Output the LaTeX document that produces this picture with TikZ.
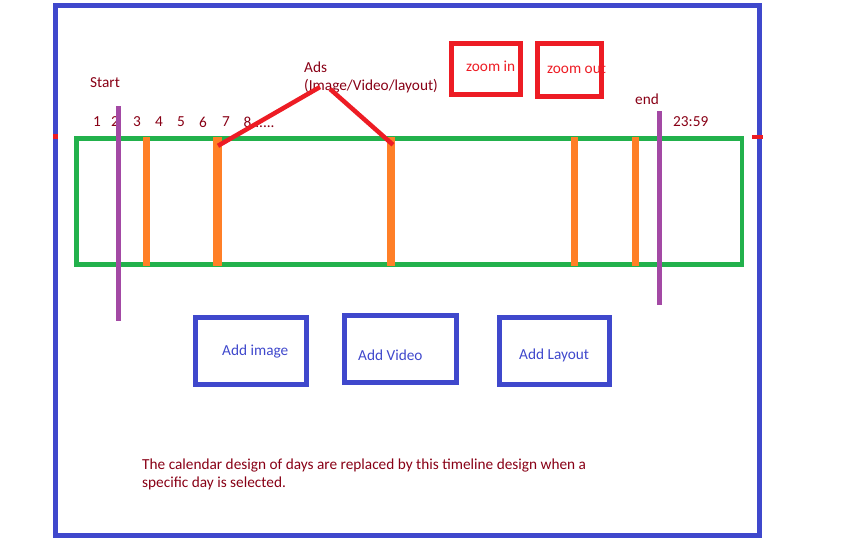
\documentclass[tikz,border=0pt]{standalone}
\usepackage{fontspec}
\setmainfont{Carlito}
\usepackage{xcolor}
\definecolor{framecolor}{HTML}{3F48CC}
\definecolor{greencolor}{HTML}{22B14C}
\definecolor{orangecolor}{HTML}{FF7F27}
\definecolor{purplecolor}{HTML}{A349A4}
\definecolor{redcolor}{HTML}{ED1C24}
\definecolor{textcolor}{HTML}{880015}
\newcommand{\adcolor}{orangecolor}
\newcommand{\zoomcolor}{redcolor}

\begin{document}
\begin{tikzpicture}[
      % GLOBAL CFG
      x=1pt, y=-1pt,
      font=\fontsize{15.3}{17.5}\selectfont,
      % Styles
      outerframe/.style={% The screen
        draw=framecolor,
        line width=5pt
      },
      timeline/.style={% The day
        rectangle,
        draw=greencolor,
        line width=4.5pt,
        minimum width=665.5pt,
        minimum height=126pt,
        inner sep=0pt
      },
      adbar/.style={% One ad on the timeline
        rectangle,
        fill=\adcolor,
        inner sep=0pt,
        minimum width=7pt,
        minimum height=129pt
      },
      limit/.style={% Start and end of the day
        draw=purplecolor,
        line width=5pt
      },
      adlink/.style={
        draw=\zoomcolor,
        line width=4.5pt
      },
      zoombox/.style={
        rectangle,
        draw=\zoomcolor,
        line width=5pt,
        inner sep=0pt
      },
      addbox/.style={
        rectangle,
        draw=framecolor,
        line width=5pt,
        minimum height=67pt,
        inner sep=0pt
      },
      txt/.style={inner sep=0pt, text=textcolor},
      zoomtxt/.style={inner sep=0pt, text=\zoomcolor, anchor=west},
      addtxt/.style={inner sep=0pt, text=framecolor, anchor=west}
      ]

      \useasboundingbox (0,0) rectangle (842,544);

      % Draw the screen:
      \draw [outerframe] (55,5.5) rectangle (759.5,535.5);
      \fill [\zoomcolor] (53,134) rectangle (58,139);
      \fill [\zoomcolor] (752,135) rectangle (763,139);

      % The timeline and its ads
      \node [timeline] (day) at (409.25,201.5) {};
      \node [adbar] (ad1) at (146.5,201.5) {};
      \node [adbar, minimum width=9pt] (ad2) at (217.5,201.5) {};
      \node [adbar, minimum width=8pt] (ad3) at (391,201.5) {};
      \node [adbar] (ad4) at (574.5,201.5) {};
      \node [adbar] (ad5) at (635.5,201.5) {};

      % Hours
      \foreach \h/\x in {1/97, 2/115, 3/137, 4/159, 5/181, 6/203, 7/226}
        \node [txt] (hour\h) at (\x,122) {\h};
      \node [txt, anchor=west] (hour8) at (243.5,122) {8......};
      \node [txt, anchor=west] (hourend) at (673,122) {23:59};

      % Start and end
      \coordinate (starttop) at (118.5,106);
      \coordinate (startbottom) at (118.5,321);
      \draw [limit] (starttop) -- (startbottom);
      \node [txt, anchor=west] (start) at (90,83) {Start};

      \coordinate (endtop) at (659.5,111);
      \coordinate (endbottom) at (659.5,305);
      \draw [limit] (endtop) -- (endbottom);
      \node [txt, anchor=west] (end) at (635,99) {end};

      % Ads
      \node [txt, anchor=west, align=left] (ads) at (304,77.5) {Ads\\(Image/Video/layout)};
      \coordinate (adpeak1) at (320,87);
      \coordinate (adpeak2) at (330,89);
      \draw [adlink] (ad2.north) ++(0.5,9) -- (adpeak1);
      \draw [adlink] (ad3.north) ++(2,8) -- (adpeak2);

      % Zoom
      \node [zoombox, minimum width=69pt, minimum height=51pt] (zoominbox) at (485.5,68.5) {};
      \node [zoomtxt] (zoomin) at (466,66) {zoom in};
      \node [zoombox, minimum width=64pt, minimum height=53pt] (zoomoutbox) at (569,69.5) {};
      \node [zoomtxt] (zoomout) at (547,69) {zoom out};

      % Add buttons
      \node [addbox, minimum width=111pt] (imagebox) at (251,351) {};
      \node [addtxt] (addimage) at (222,351) {Add image};
      \node [addbox, minimum width=112pt] (videobox) at (400.5,349) {};
      \node [addtxt] (addvideo) at (358,355) {Add Video};
      \node [addbox, minimum width=110pt] (layoutbox) at (554.5,351) {};
      \node [addtxt] (addlayout) at (519,355) {Add Layout};

      % Note
      \node [txt, anchor=west, align=left] (note) at (142,474.5)
        {The calendar design of days are replaced by this timeline design when a\\specific day is selected.};

    \end{tikzpicture}
\end{document}
